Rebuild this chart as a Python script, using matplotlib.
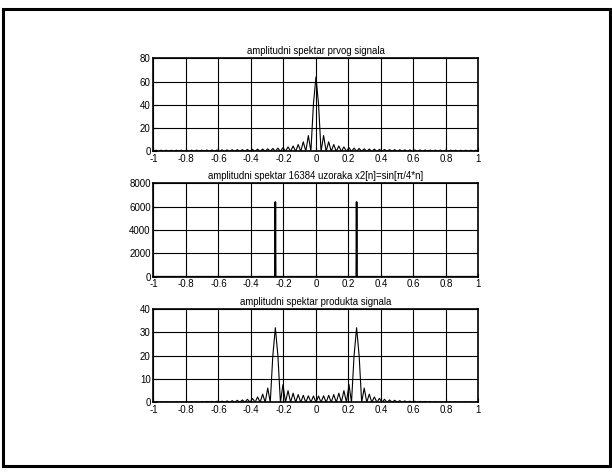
import numpy as np
import matplotlib.pyplot as plt
from matplotlib.patches import Rectangle

plt.rcParams['font.family'] = ['Liberation Sans', 'DejaVu Sans']

# frequency grid step between spectral nulls (normalised frequency)
lobe_w = 1 / 32

# spectrum of first signal: main lobe + side lobe heights (right half, mirrored)
top_peak = 64
top_shoulder = 41
top_lobes = [13.6, 8.2, 5.9, 4.6, 3.8, 3.2, 2.8, 2.5, 2.2, 2.0, 1.9, 1.7, 1.6,
             1.5, 1.5, 1.4, 1.3, 1.3, 1.2, 1.2, 1.2, 1.1, 1.1, 1.1, 1.1, 1.0,
             1.0, 1.0, 1.0, 1.0, 1.0]

# spectrum of 16384 samples of sin(pi/4*n)
tone_x = [-1, -0.252, -0.25, -0.248, 0.248, 0.25, 0.252, 1]
tone_y = [0, 0, 6400, 0, 0, 6400, 0, 0]

# spectrum of product: lobes between 0 and the peak, peak, lobes outside
prod_peak = 32
prod_shoulder = 20
prod_inner = [2.7, 2.8, 3.0, 3.3, 3.9, 5.0, 7.6]
prod_outer = [6.1, 3.5, 2.3, 1.7, 1.3, 1.0, 0.85, 0.7, 0.6, 0.5, 0.45, 0.4,
              0.35, 0.3, 0.25, 0.25, 0.2, 0.2, 0.2, 0.2, 0.2, 0.2, 0.2]

titles = ['amplitudni spektar prvog signala',
          'amplitudni spektar 16384 uzoraka x2[n]=sin[\u03c0/4*n]',
          'amplitudni spektar produkta signala']
yticks = [[0, 20, 40, 60, 80],
          [0, 2000, 4000, 6000, 8000],
          [0, 10, 20, 30, 40]]
xticks = [-1, -0.8, -0.6, -0.4, -0.2, 0, 0.2, 0.4, 0.6, 0.8, 1]
xlabels = ['-1', '-0.8', '-0.6', '-0.4', '-0.2', '0', '0.2', '0.4', '0.6', '0.8', '1']


def mirror(xs, ys):
    xs = np.array(xs)
    ys = np.array(ys)
    return np.concatenate([-xs[:0:-1], xs]), np.concatenate([ys[:0:-1], ys])


# first signal
xs = [0, lobe_w / 2, lobe_w]
ys = [top_peak, top_shoulder, 0]
for k, h in enumerate(top_lobes, start=1):
    xs += [(k + 0.5) * lobe_w, (k + 1) * lobe_w]
    ys += [h, 0]
top_x, top_y = mirror(xs, ys)

# product
xs = [0]
ys = [0]
for k, h in enumerate(prod_inner):
    xs += [(k + 0.5) * lobe_w, (k + 1) * lobe_w]
    ys += [h, 0]
xs += [7.5 * lobe_w, 8 * lobe_w, 8.5 * lobe_w, 9 * lobe_w]
ys += [prod_shoulder, prod_peak, prod_shoulder, 0]
for k, h in enumerate(prod_outer, start=9):
    xs += [(k + 0.5) * lobe_w, (k + 1) * lobe_w]
    ys += [h, 0]
prod_x, prod_y = mirror(xs, ys)

series = [(top_x, top_y, 0.8), (tone_x, tone_y, 1.2), (prod_x, prod_y, 0.8)]

fig = plt.figure(figsize=(6.12, 4.73), dpi=100)
positions = [[0.2508, 0.680, 0.531, 0.1966],
             [0.2508, 0.415, 0.531, 0.1975],
             [0.2508, 0.1495, 0.531, 0.197]]

for pos, (x, y, lw), title, yt in zip(positions, series, titles, yticks):
    ax = fig.add_axes(pos)
    ax.plot(x, y, color='black', linewidth=lw)
    ax.set_xlim(-1, 1)
    ax.set_ylim(yt[0], yt[-1])
    ax.set_xticks(xticks)
    ax.set_xticklabels(xlabels)
    ax.set_yticks(yt)
    ax.grid(True, color='black', linewidth=0.8, linestyle='-')
    ax.tick_params(direction='in', length=3, width=0.8, labelsize=7,
                   pad=2, colors='black')
    for s in ax.spines.values():
        s.set_linewidth(1.2)
    ax.set_title(title, fontsize=6.9, pad=3)

fig.patches.append(Rectangle((3 / 612, 7 / 473), 607 / 612, 457 / 473,
                             transform=fig.transFigure, fill=False,
                             linewidth=2.2, edgecolor='black'))

fig.savefig('out.png', dpi=100)
